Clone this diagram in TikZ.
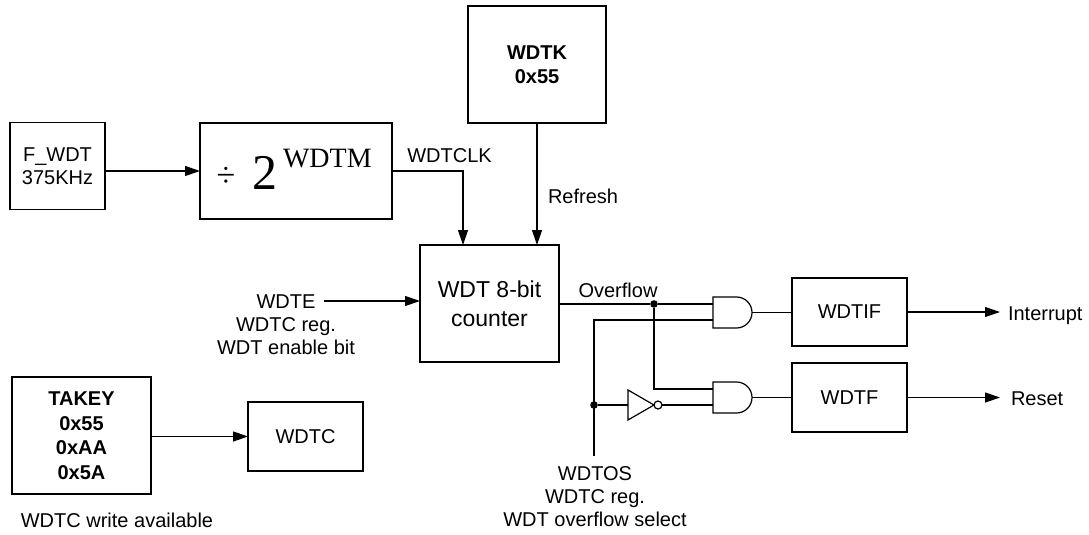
\documentclass[tikz,border=0pt]{standalone}
\usepackage{fontspec}
\setmainfont{Liberation Sans}
\newfontfamily\serifnum{Liberation Serif}
\usetikzlibrary{arrows.meta,calc}
\begin{document}
\begin{tikzpicture}[x=1pt,y=-1pt,
  every node/.style={inner sep=0pt, outer sep=0pt},
  blk/.style={draw, line width=1.2pt, align=center, font=\fontsize{20}{23.5}\selectfont},
  boldblk/.style={blk, font=\bfseries\fontsize{20}{24.5}\selectfont},
  txt/.style={align=center, font=\fontsize{20}{23}\selectfont},
  wire/.style={line width=1.2pt},
  arr/.style={wire, -{Triangle[length=15pt,width=10pt]}},
  dotn/.style={circle, fill, minimum size=7.6pt},
  gatebox/.style={minimum width=39pt, minimum height=31pt},
  invbox/.style={minimum width=26pt, minimum height=30pt}
]
\useasboundingbox (0,0) rectangle (1089,535);

% blocks
\node[blk, minimum width=95pt, minimum height=87pt] (fwdt) at (57.5,166) {F\_WDT\\375KHz};
\node[blk, minimum width=192pt, minimum height=96pt] (div) at (296,171) {};
\node[font=\serifnum\fontsize{34}{34}\selectfont] (divsym) at (226,177) {÷};
\node[font=\serifnum\fontsize{50}{50}\selectfont, anchor=base west] (two) at (252,189) {2};
\node[font=\serifnum\fontsize{28}{28}\selectfont, anchor=base west] (wdtm) at (283,167) {WDTM};
\node[boldblk, font=\bfseries\fontsize{20}{23.5}\selectfont, minimum width=138pt, minimum height=117pt] (wdtk) at (537,64.5) {WDTK\\0x55};
\node[blk, font=\fontsize{23}{29}\selectfont, minimum width=139pt, minimum height=117pt] (cnt) at (489.5,303.5) {WDT 8-bit\\counter};
\node[blk, minimum width=115pt, minimum height=68pt] (wdtif) at (849.5,312) {WDTIF};
\node[blk, minimum width=115pt, minimum height=69pt] (wdtf) at (849.5,397.5) {WDTF};
\node[boldblk, minimum width=139pt, minimum height=117pt] (takey) at (81.5,435.5) {TAKEY\\0x55\\0xAA\\0x5A};
\node[blk, minimum width=115pt, minimum height=69pt] (wdtc) at (305.5,436.5) {WDTC};

% gates
\node[gatebox] (and1) at (732.5,312.5) {};
\node[gatebox] (and2) at (732.5,397.5) {};
\draw[wire] (and1.north west) -- ([xshift=-15.5pt]and1.north east) arc[start angle=90,end angle=-90,radius=15.5pt] -- (and1.south west) -- cycle;
\draw[wire] (and2.north west) -- ([xshift=-15.5pt]and2.north east) arc[start angle=90,end angle=-90,radius=15.5pt] -- (and2.south west) -- cycle;
\node[invbox] (inv) at (641,405) {};
\draw[wire, line join=miter] (inv.north west) -- (inv.east) -- (inv.south west) -- cycle;
\node[circle, draw, line width=1.2pt, minimum size=8pt] (bub) at (658,405) {};
\node[dotn] (d1) at (654,304) {};
\node[dotn] (d2) at (594,405) {};

\coordinate (a1in1) at (713,304);
\coordinate (a1in2) at (713,320);
\coordinate (a2in1) at (713,389);
\coordinate (a2in2) at (713,405);
\coordinate (wdtein) at (324,301);
\coordinate (wdtos) at (594,456);
\coordinate (intr) at (1000,312);
\coordinate (rst) at (1000,397.5);

% connectors
\draw[arr] (fwdt.east |- div.west) -- (div.west);
\draw[arr] (div.east) -| ([xshift=43pt]cnt.north west);
\draw[arr] (wdtk.south) -- (wdtk.south |- cnt.north);
\draw[arr] (wdtein) -- (wdtein -| cnt.west);
\draw[wire] (cnt.east |- d1) -- (d1) -- (a1in1);
\draw[wire] (d1) |- (a2in1);
\draw[wire] (wdtos) |- (a1in2);
\draw[wire] (d2) -- (inv.west);
\draw[wire] (bub.east) -- (a2in2);
\draw[wire] (and1.east) -- (and1.east -| wdtif.west);
\draw[wire] (and2.east) -- (and2.east -| wdtf.west);
\draw[arr] (wdtif.east) -- (intr);
\draw[arr] (wdtf.east) -- (rst);
\draw[arr] (takey.east |- wdtc.west) -- (wdtc.west);

% labels
\node[txt, anchor=base] (lclk) at (449.5,162) {WDTCLK};
\node[txt, anchor=base west] (lref) at (548,203) {Refresh};
\node[txt, anchor=base] (lovf) at (618,297) {Overflow};
\node[txt, anchor=base west] (lint) at (1008,320) {Interrupt};
\node[txt, anchor=base west] (lrst) at (1011,405) {Reset};
\node[txt, anchor=north] (lwdte) at (286,295) {WDTE\\WDTC reg.\\WDT enable bit};
\node[txt, anchor=north] (lwdtos) at (595,467) {WDTOS\\WDTC reg.\\WDT overflow select};
\node[txt, anchor=base] (lwa) at (117,527) {WDTC write available};
\end{tikzpicture}
\end{document}
